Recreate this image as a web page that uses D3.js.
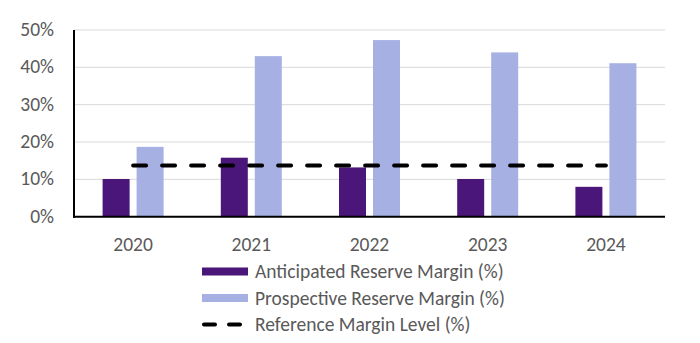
<!DOCTYPE html>
<html>
<head>
<meta charset="utf-8">
<script src="https://d3js.org/d3.v7.min.js"></script>
<style>
  body { margin: 0; background: #fff; }
  text { font-family: Calibri, Carlito, Lato, "Open Sans", sans-serif; fill: #595959; }
</style>
</head>
<body>
<svg width="700" height="343"></svg>
<script>
// data
var years = ["2020", "2021", "2022", "2023", "2024"];
var anticipated = [10.1, 15.8, 13.2, 10.1, 8.0];
var prospective = [18.7, 43.0, 47.3, 44.0, 41.1];
var reference = [13.7, 13.7, 13.7, 13.7, 13.7];
var yTicks = [0, 10, 20, 30, 40, 50];

var svg = d3.select("svg");
var plotL = 74, plotR = 665, plotT = 30, plotB = 216.7;

var x = d3.scaleBand().domain(years).range([plotL, plotR]);
var y = d3.scaleLinear().domain([0, 50]).range([plotB, plotT]);

var barW = 27, gap = 7;
var darkCol = "#4b1679", lightCol = "#a7b0e3";

// gridlines
svg.append("g").selectAll("line")
  .data(yTicks.slice(1))
  .enter().append("line")
  .attr("x1", plotL).attr("x2", plotR)
  .attr("y1", function(d) { return y(d); })
  .attr("y2", function(d) { return y(d); })
  .attr("stroke", "#d9d9d9").attr("stroke-width", 1);

// y tick labels
svg.append("g").selectAll("text")
  .data(yTicks)
  .enter().append("text")
  .attr("x", 54)
  .attr("y", function(d) { return y(d) + 6; })
  .attr("text-anchor", "end")
  .attr("font-size", 19.5)
  .text(function(d) { return d + "%"; });

// bars
svg.append("g").selectAll("rect")
  .data(anticipated)
  .enter().append("rect")
  .attr("x", function(d, i) { return x(years[i]) + x.bandwidth() / 2 - gap / 2 - barW; })
  .attr("y", function(d) { return y(d); })
  .attr("width", barW)
  .attr("height", function(d) { return plotB - y(d); })
  .attr("fill", darkCol);

svg.append("g").selectAll("rect")
  .data(prospective)
  .enter().append("rect")
  .attr("x", function(d, i) { return x(years[i]) + x.bandwidth() / 2 + gap / 2; })
  .attr("y", function(d) { return y(d); })
  .attr("width", barW)
  .attr("height", function(d) { return plotB - y(d); })
  .attr("fill", lightCol);

// axes lines
svg.append("line")
  .attr("x1", plotL).attr("x2", plotL)
  .attr("y1", plotT).attr("y2", plotB + 1)
  .attr("stroke", "#000").attr("stroke-width", 2);
svg.append("line")
  .attr("x1", plotL - 1).attr("x2", plotR)
  .attr("y1", plotB).attr("y2", plotB)
  .attr("stroke", "#000").attr("stroke-width", 2);

// reference line
var line = d3.line()
  .x(function(d, i) { return x(years[i]) + x.bandwidth() / 2; })
  .y(function(d) { return y(d); });
svg.append("path")
  .datum(reference)
  .attr("d", line)
  .attr("fill", "none")
  .attr("stroke", "#000")
  .attr("stroke-width", 4)
  .attr("stroke-linecap", "round")
  .attr("stroke-dasharray", "13,16");

// x labels
svg.append("g").selectAll("text")
  .data(years)
  .enter().append("text")
  .attr("x", function(d) { return x(d) + x.bandwidth() / 2; })
  .attr("y", 251)
  .attr("text-anchor", "middle")
  .attr("font-size", 19.5)
  .text(function(d) { return d; });

// legend
var legend = svg.append("g");
var items = [
  { label: "Anticipated Reserve Margin (%)", type: "rect", color: darkCol },
  { label: "Prospective Reserve Margin (%)", type: "rect", color: lightCol },
  { label: "Reference Margin Level (%)", type: "line", color: "#000" }
];
items.forEach(function(it, i) {
  var cy = 271.5 + i * 26.5;
  if (it.type == "rect") {
    legend.append("rect")
      .attr("x", 202).attr("y", cy - 4)
      .attr("width", 46).attr("height", 8)
      .attr("fill", it.color);
  } else {
    legend.append("line")
      .attr("x1", 204).attr("x2", 246)
      .attr("y1", cy).attr("y2", cy)
      .attr("stroke", it.color)
      .attr("stroke-width", 4)
      .attr("stroke-linecap", "round")
      .attr("stroke-dasharray", "11,14");
  }
  legend.append("text")
    .attr("x", 255).attr("y", cy + 6.5)
    .attr("font-size", 19.5)
    .text(it.label);
});
</script>
</body>
</html>
